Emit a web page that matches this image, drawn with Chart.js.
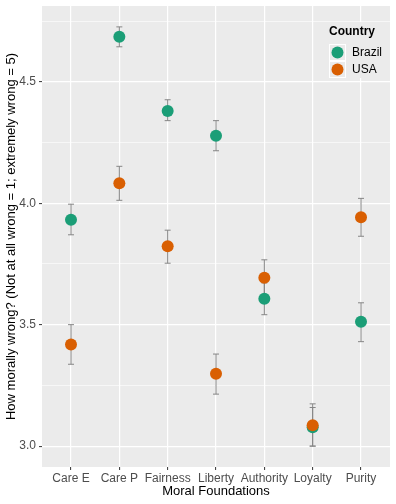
<!DOCTYPE html>
<html>
<head>
<meta charset="utf-8">
<script src="https://cdn.jsdelivr.net/npm/chart.js@4.4.1/dist/chart.umd.min.js"></script>
<style>
  html, body { margin: 0; padding: 0; background: #ffffff; }
  canvas { display: block; }
</style>
</head>
<body>
<canvas id="moralChart" width="396" height="504"></canvas>
<script>
// --- DATA ---
const categories = ['Care E', 'Care P', 'Fairness', 'Liberty', 'Authority', 'Loyalty', 'Purity'];
const brazilMean = [3.932, 4.685, 4.380, 4.278, 3.607, 3.078, 3.512];
const brazilLow  = [3.870, 4.644, 4.340, 4.216, 3.541, 3.000, 3.430];
const brazilHigh = [3.996, 4.726, 4.426, 4.340, 3.672, 3.159, 3.590];
const usaMean = [3.418, 4.082, 3.823, 3.298, 3.693, 3.086, 3.942];
const usaLow  = [3.337, 4.012, 3.753, 3.214, 3.620, 3.000, 3.864];
const usaHigh = [3.500, 4.152, 3.889, 3.379, 3.767, 3.174, 4.020];
const yTicks = [3.0, 3.25, 3.5, 3.75, 4.0, 4.25, 4.5, 4.75];

const FONT = "'Liberation Sans', Arial, Helvetica, sans-serif";
const PANEL_BG = '#EBEBEB';
const isMajor = v => Math.abs(v * 2 - Math.round(v * 2)) < 1e-6;

// --- PLUGINS ---
const panelBackground = {
  id: 'panelBackground',
  beforeDraw(chart) {
    const { ctx, chartArea: a } = chart;
    ctx.save();
    ctx.fillStyle = PANEL_BG;
    ctx.fillRect(a.left, a.top, a.right - a.left, a.bottom - a.top);
    ctx.restore();
  }
};

// error bars drawn under the points, positions come from the chart scales
const errorBars = {
  id: 'errorBars',
  beforeDatasetsDraw(chart) {
    const { ctx, chartArea: a, scales } = chart;
    ctx.save();
    ctx.beginPath();
    ctx.rect(a.left, a.top, a.right - a.left, a.bottom - a.top);
    ctx.clip();
    ctx.strokeStyle = '#858585';
    ctx.lineWidth = 1;
    chart.data.datasets.forEach(ds => {
      ds.low.forEach((lo, i) => {
        const x = scales.x.getPixelForValue(i);
        const y1 = scales.y.getPixelForValue(lo);
        const y2 = scales.y.getPixelForValue(ds.high[i]);
        ctx.beginPath();
        ctx.moveTo(x, y1); ctx.lineTo(x, y2);
        ctx.moveTo(x - 3, y1); ctx.lineTo(x + 3, y1);
        ctx.moveTo(x - 3, y2); ctx.lineTo(x + 3, y2);
        ctx.stroke();
      });
    });
    ctx.restore();
  }
};

const insideLegend = {
  id: 'insideLegend',
  afterDraw(chart) {
    const { ctx } = chart;
    const sets = chart.data.datasets.slice().sort((p, q) => p.legendIndex - q.legendIndex);
    ctx.save();
    ctx.fillStyle = PANEL_BG;
    ctx.fillRect(323, 22, 66, 56);
    ctx.fillStyle = '#000000';
    ctx.font = 'bold 12px ' + FONT;
    ctx.textBaseline = 'middle';
    ctx.textAlign = 'left';
    ctx.fillText('Country', 329, 32);
    sets.forEach((ds, k) => {
      const top = 44 + k * 17;
      ctx.fillStyle = PANEL_BG;
      ctx.fillRect(329, top, 17, 17);
      ctx.strokeStyle = '#ffffff';
      ctx.lineWidth = 1;
      ctx.strokeRect(329.5, top + 0.5, 16, 16);
      ctx.fillStyle = ds.backgroundColor;
      ctx.beginPath();
      ctx.arc(337.5, top + 8.5, 6, 0, Math.PI * 2);
      ctx.fill();
      ctx.fillStyle = '#000000';
      ctx.font = '12px ' + FONT;
      ctx.fillText(ds.label, 352, top + 9);
    });
    ctx.restore();
  }
};

// --- CHART ---
const ctx = document.getElementById('moralChart').getContext('2d');
new Chart(ctx, {
  type: 'scatter',
  data: {
    datasets: [
      {
        label: 'Brazil',
        legendIndex: 0,
        order: 1,
        data: brazilMean.map((v, i) => ({ x: i, y: v })),
        low: brazilLow,
        high: brazilHigh,
        backgroundColor: '#1B9E77',
        borderWidth: 0,
        pointRadius: 6,
        pointHoverRadius: 6
      },
      {
        label: 'USA',
        legendIndex: 1,
        order: 0,
        data: usaMean.map((v, i) => ({ x: i, y: v })),
        low: usaLow,
        high: usaHigh,
        backgroundColor: '#D95F02',
        borderWidth: 0,
        pointRadius: 6,
        pointHoverRadius: 6
      }
    ]
  },
  options: {
    responsive: false,
    animation: false,
    devicePixelRatio: 1,
    layout: { padding: { left: 0, top: 5, right: 5, bottom: 0 } },
    plugins: {
      legend: { display: false },
      tooltip: { enabled: false }
    },
    scales: {
      x: {
        type: 'linear',
        min: -0.6,
        max: 6.6,
        afterBuildTicks: scale => { scale.ticks = categories.map((c, i) => ({ value: i })); },
        afterFit: scale => {
          scale.height = 37;
          scale.paddingLeft = 0;
          scale.paddingRight = 0;
        },
        border: { display: false },
        grid: {
          color: '#ffffff',
          lineWidth: 1.2,
          tickColor: '#333333',
          tickWidth: 1,
          tickLength: 3
        },
        ticks: {
          autoSkip: false,
          maxRotation: 0,
          padding: 1,
          color: '#4D4D4D',
          font: { family: FONT, size: 12 },
          callback: v => categories[v]
        },
        title: {
          display: true,
          text: 'Moral Foundations',
          color: '#000000',
          font: { family: FONT, size: 13 },
          padding: { top: 5, bottom: 5 }
        }
      },
      y: {
        type: 'linear',
        min: 2.914,
        max: 4.812,
        afterBuildTicks: scale => { scale.ticks = yTicks.map(v => ({ value: v })); },
        afterFit: scale => {
          scale.width = 42;
          scale.paddingTop = 0;
          scale.paddingBottom = 0;
        },
        border: { display: false },
        grid: {
          color: '#ffffff',
          lineWidth: c => (c.tick && isMajor(c.tick.value)) ? 1.2 : 0.6,
          tickColor: c => (c.tick && isMajor(c.tick.value)) ? '#333333' : 'rgba(0,0,0,0)',
          tickWidth: 1,
          tickLength: 3
        },
        ticks: {
          autoSkip: false,
          padding: 3,
          color: '#4D4D4D',
          font: { family: FONT, size: 12 },
          callback: v => isMajor(v) ? v.toFixed(1) : ''
        },
        title: {
          display: true,
          text: 'How morally wrong? (Not at all wrong = 1; extremely wrong = 5)',
          color: '#000000',
          font: { family: FONT, size: 13 },
          padding: { top: 4, bottom: 4 }
        }
      }
    }
  },
  plugins: [panelBackground, errorBars, insideLegend]
});
</script>
</body>
</html>
